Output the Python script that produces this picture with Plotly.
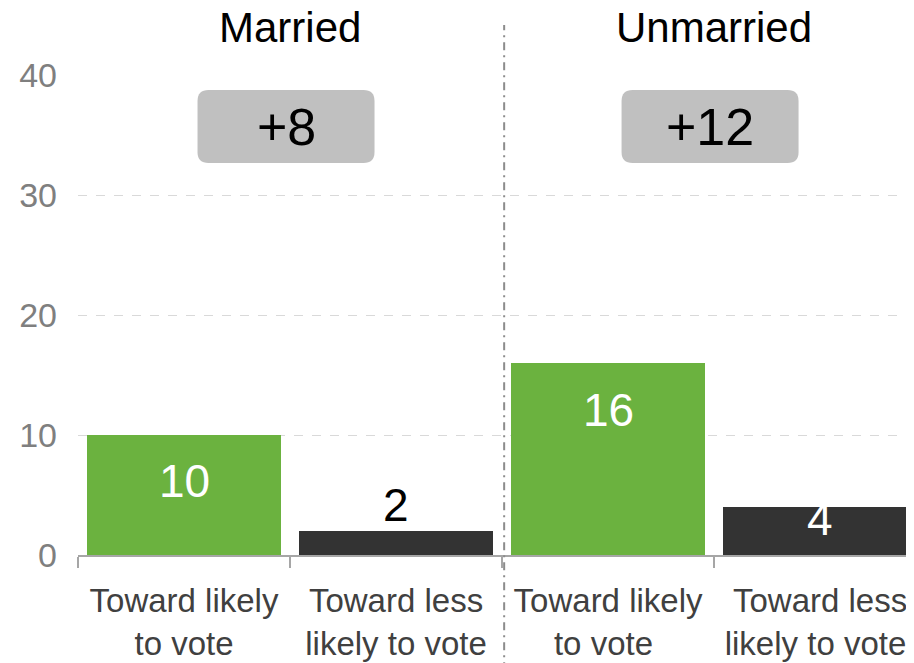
import plotly.graph_objects as go

# ---- data ----
categories = ["Toward likely<br>to vote", "Toward less<br>likely to vote",
              "Toward likely<br>to vote ", "Toward less<br>likely to vote "]
values = [10, 2, 16, 4]
groups = ["Married", "Unmarried"]
group_diffs = ["+8", "+12"]
y_ticks = [0, 10, 20, 30, 40]

# ---- styles ----
GREEN = "#6BB23F"
DARK = "#333333"
bar_colors = [GREEN, DARK, GREEN, DARK]
label_colors = ["white", "black", "white", "white"]
label_shift = [-46, 26, -47, -12]
FONT = "Liberation Sans, Arial, sans-serif"

fig = go.Figure()
fig.add_trace(go.Bar(
    x=categories, y=values, marker=dict(color=bar_colors, line=dict(width=0)),
    width=0.915, hoverinfo="skip", showlegend=False,
))

# value labels
for c, v, col, sh in zip(categories, values, label_colors, label_shift):
    fig.add_annotation(x=c, y=v, text=str(v), showarrow=False, yshift=sh,
                       yanchor="middle", font=dict(family=FONT, size=46, color=col))

# group titles and difference boxes
for i, (g, d) in enumerate(zip(groups, group_diffs)):
    xc = 2 * i + 0.5
    fig.add_annotation(x=xc, xref="x", y=1.098, yref="paper", text=g, showarrow=False,
                       yanchor="middle", font=dict(family=FONT, size=42, color="black"))
    w, h, r, off = 177, 73, 11, -4
    x0, x1 = -w / 2 + off, w / 2 + off
    y0, y1 = -h / 2, h / 2
    path = (f"M{x0 + r},{y0} L{x1 - r},{y0} Q{x1},{y0} {x1},{y0 + r} "
            f"L{x1},{y1 - r} Q{x1},{y1} {x1 - r},{y1} L{x0 + r},{y1} "
            f"Q{x0},{y1} {x0},{y1 - r} L{x0},{y0 + r} Q{x0},{y0} {x0 + r},{y0} Z")
    fig.add_shape(type="path", path=path, xsizemode="pixel", ysizemode="pixel",
                  xanchor=xc, yanchor=35.7, xref="x", yref="y",
                  fillcolor="#C0C0C0", line=dict(width=0), layer="above")
    fig.add_annotation(x=xc, y=35.7, text=d, showarrow=False, xshift=off,
                       yanchor="middle", font=dict(family=FONT, size=52, color="black"))

# group separator
fig.add_shape(type="line", xref="x", yref="paper", x0=1.51, x1=1.51, y0=-0.24, y1=1.104,
              line=dict(color="#8C8C8C", width=2, dash="8px,5px,2px,5px"))

fig.update_layout(
    width=906, height=655,
    margin=dict(l=70, r=0, t=67, b=108),
    paper_bgcolor="white", plot_bgcolor="white",
    bargap=0,
    xaxis=dict(type="category", range=[-0.5, 3.443], tickson="boundaries",
               ticks="outside", ticklen=11, tickwidth=2, tickcolor="#A6A6A6",
               showline=True, linecolor="#A6A6A6", linewidth=2, showgrid=False,
               ticklabelstandoff=15,
               tickfont=dict(family=FONT, size=33, color="#404040")),
    yaxis=dict(range=[0, 40], tickvals=y_ticks, showline=False, zeroline=False,
               showgrid=True, gridcolor="#D9D9D9", gridwidth=1, griddash="dash",
               ticks="", ticklabelstandoff=20,
               tickfont=dict(family=FONT, size=34, color="#7F7F7F")),
)

fig.write_html("out.html")
